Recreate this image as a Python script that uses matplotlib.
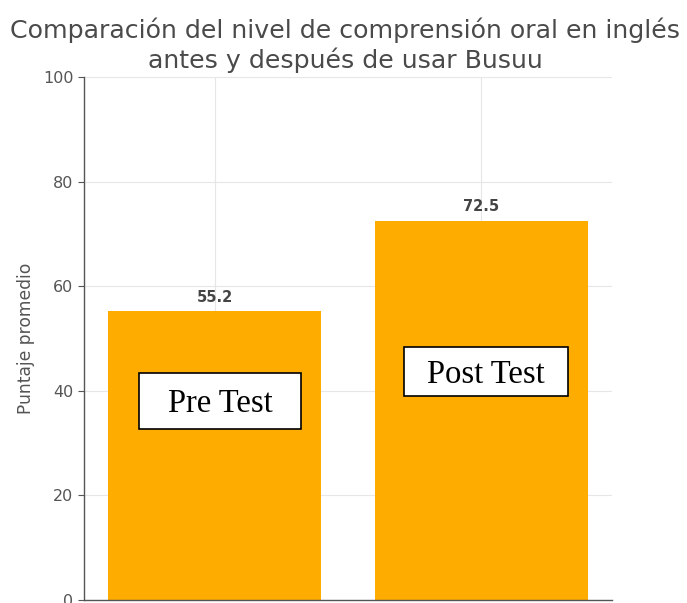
import matplotlib
matplotlib.use("Agg")
import matplotlib.pyplot as plt
from matplotlib.patches import Rectangle

categories = ["Pre Test", "Post Test"]
values = [55.2, 72.5]
yticks = [0, 20, 40, 60, 80, 100]
title_lines = ["Comparación del nivel de comprensión oral en inglés",
               "antes y después de usar Busuu"]
ylabel = "Puntaje promedio"

W, H = 687, 603
fig = plt.figure(figsize=(W / 100, H / 100), dpi=100)
ax = fig.add_axes([84 / W, 3 / H, (612 - 84) / W, (600 - 77) / H])

x = list(range(len(categories)))
bars = ax.bar(x, values, width=0.8, color="#FFAC00", zorder=2)
ax.set_ylim(0, 100)
ax.set_xlim(-0.49, 1.49)
ax.set_yticks(yticks)
ax.set_xticks(x)
ax.set_xticklabels([])
ax.grid(True, color="#e6e6e6", linewidth=0.8, zorder=0)
ax.set_axisbelow(True)
for s in ["top", "right"]:
    ax.spines[s].set_visible(False)
for s in ["left", "bottom"]:
    ax.spines[s].set_color("#555555")
    ax.spines[s].set_linewidth(1.0)
ax.tick_params(axis="y", labelsize=11.5, colors="#555555", length=4, labelcolor="#555555")
ax.tick_params(axis="x", direction="in", length=5, colors="#555555")
ax.set_ylabel(ylabel, fontsize=12.3, color="#555555", labelpad=6)

for xi, v in zip(x, values):
    ax.text(xi, v + 1.3, f"{v}", ha="center", va="bottom", fontsize=10.5,
            fontweight="bold", color="#444444")

for yy, line in zip([30, 60], title_lines):
    fig.text(345 / W, 1 - yy / H, line, ha="center", va="center", fontsize=18.2,
             color="#4a4a4a")

# overlay label boxes (pixel boxes from the reference)
boxes = [(139, 373, 301, 429), (404, 347, 568, 396)]
for (x0, y0, x1, y1), lab in zip(boxes, categories):
    fig.patches.append(Rectangle((x0 / W, 1 - y1 / H), (x1 - x0) / W, (y1 - y0) / H,
                                 transform=fig.transFigure, facecolor="white",
                                 edgecolor="black", linewidth=1.2, zorder=5))
    fig.text((x0 + x1) / 2 / W, 1 - ((y0 + y1) / 2 + 3) / H, lab, ha="center",
             va="center", fontsize=23.5, family="Liberation Serif", color="black", zorder=6)

fig.savefig("out.png", dpi=100)
